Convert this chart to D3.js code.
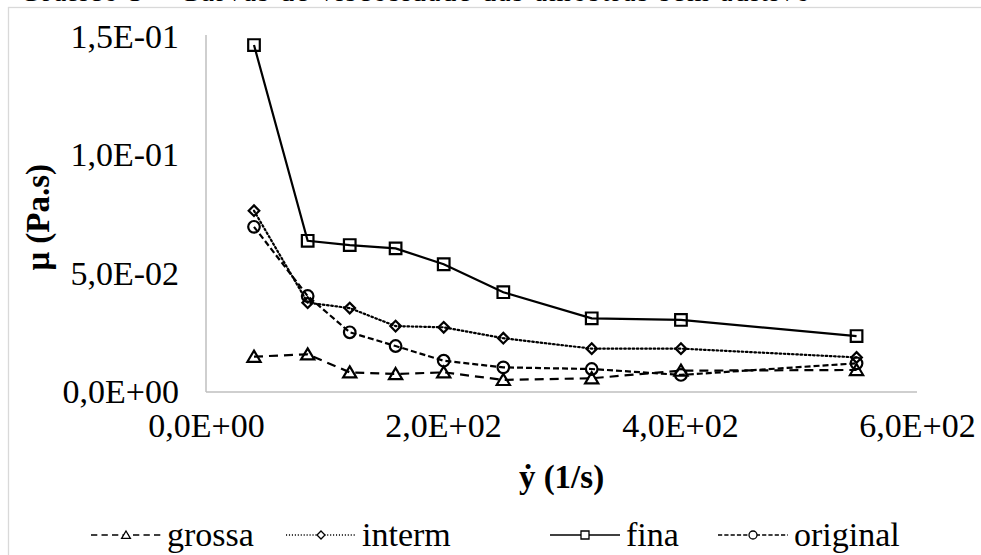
<!DOCTYPE html>
<html>
<head>
<meta charset="utf-8">
<script src="https://cdn.jsdelivr.net/npm/d3@7"></script>
<style>
  html, body { margin: 0; padding: 0; background: #fff; }
  svg { display: block; }
  text { font-family: "Liberation Serif", "Times New Roman", serif; fill: #000; }
</style>
</head>
<body>
<svg id="chart" width="981" height="555"></svg>
<script>
// Shear rate (1/s) for each reading
const shearRate = [40.5, 85.8, 121.3, 160, 200.6, 250.9, 325.5, 400.8, 549];

// Apparent viscosity (Pa.s) per sample
const grossa   = [0.0149, 0.0159, 0.0083, 0.0076, 0.0083, 0.0051, 0.0058, 0.0090, 0.0093];
const interm   = [0.0765, 0.0377, 0.0354, 0.0278, 0.0273, 0.0227, 0.0183, 0.0183, 0.0146];
const fina     = [0.1464, 0.0638, 0.0620, 0.0606, 0.0539, 0.0421, 0.0311, 0.0304, 0.0236];
const original = [0.0697, 0.0405, 0.0252, 0.0194, 0.0132, 0.0104, 0.0097, 0.0072, 0.0121];

const xTicks = [0, 200, 400, 600];
const yTicks = [0, 0.05, 0.10, 0.15];
const seriesNames = ["grossa", "interm", "fina", "original"];

const chartTitle = "Gráfico 3 – Curvas de viscosidade das amostras sem aditivo";
const xTitle = "ẏ (1/s)";
const yTitle = "μ (Pa.s)";

// Excel-style scientific labels with decimal comma: 1,5E-01
function sci(v) {
  if (v === 0) return "0,0E+00";
  const e = Math.floor(Math.log10(Math.abs(v)) + 1e-9);
  const m = v / Math.pow(10, e);
  const sign = e < 0 ? "-" : "+";
  return m.toFixed(1).replace(".", ",") + "E" + sign + String(Math.abs(e)).padStart(2, "0");
}

const series = [
  { name: seriesNames[0], values: grossa,   dash: "9,6",     marker: "triangle" },
  { name: seriesNames[1], values: interm,   dash: "1.6,2.6", marker: "diamond" },
  { name: seriesNames[2], values: fina,     dash: null,      marker: "square" },
  { name: seriesNames[3], values: original, dash: "6,3",     marker: "circle" }
];

const svg = d3.select("#chart");
const FS = 34;

// Chart-area frame
svg.append("rect")
  .attr("x", 8.5).attr("y", 7.5)
  .attr("width", 1000).attr("height", 600)
  .attr("fill", "none").attr("stroke", "#d9d9d9").attr("stroke-width", 1.3);

// Title (sits above the frame, only its lower edge is inside the page)
svg.append("text")
  .attr("x", 20).attr("y", 0.5)
  .attr("font-size", 28).attr("fill", "#444")
  .attr("textLength", 790).attr("lengthAdjust", "spacing")
  .text(chartTitle);

const plot = { left: 206, right: 917, top: 36.5, bottom: 392 };

const x = d3.scaleLinear().domain([0, 600]).range([plot.left, plot.right]);
const y = d3.scaleLinear().domain([0, 0.15]).range([plot.bottom, plot.top]);

// Axis lines (light grey, no tick marks)
svg.append("line")
  .attr("x1", plot.left).attr("x2", plot.left)
  .attr("y1", plot.top - 1.5).attr("y2", plot.bottom)
  .attr("stroke", "#bfbfbf").attr("stroke-width", 1.5);
svg.append("line")
  .attr("x1", plot.left).attr("x2", plot.right)
  .attr("y1", plot.bottom).attr("y2", plot.bottom)
  .attr("stroke", "#bfbfbf").attr("stroke-width", 1.5);

// Y tick labels
const yAxis = d3.axisLeft(y).tickValues(yTicks).tickFormat(sci).tickSize(0).tickPadding(27);
const gy = svg.append("g").attr("transform", `translate(${plot.left},0)`).call(yAxis);
gy.select(".domain").remove();
gy.selectAll("text").attr("font-size", FS).attr("fill", "#000");

// X tick labels
const xAxis = d3.axisBottom(x).tickValues(xTicks).tickFormat(sci).tickSize(0).tickPadding(21);
const gx = svg.append("g").attr("transform", `translate(0,${plot.bottom})`).call(xAxis);
gx.select(".domain").remove();
gx.selectAll("text").attr("font-size", FS).attr("fill", "#000");

// Axis titles
svg.append("text")
  .attr("x", (plot.left + plot.right) / 2).attr("y", 488)
  .attr("text-anchor", "middle")
  .attr("font-size", 33).attr("font-weight", "bold")
  .text(xTitle);
svg.append("text")
  .attr("transform", `translate(49,${(plot.top + plot.bottom) / 2 + 3}) rotate(-90)`)
  .attr("text-anchor", "middle")
  .attr("font-size", 33).attr("font-weight", "bold")
  .text(yTitle);

// Marker shapes
function markerPath(kind, s) {
  switch (kind) {
    case "square":   return `M${-s},${-s}H${s}V${s}H${-s}Z`;
    case "diamond":  return `M0,${-s}L${s},0L0,${s}L${-s},0Z`;
    case "triangle": return `M0,${-s}L${s * 1.1},${s * 0.85}H${-s * 1.1}Z`;
    case "circle":   return d3.arc()({ innerRadius: 0, outerRadius: s, startAngle: 0, endAngle: 2 * Math.PI });
  }
}
const markerSize = { square: 5.8, diamond: 5.3, triangle: 6.0, circle: 5.8 };

const line = d3.line().x((d, i) => x(shearRate[i])).y(d => y(d));

const gSeries = svg.append("g");
series.forEach(s => {
  gSeries.append("path")
    .attr("d", line(s.values))
    .attr("fill", "none").attr("stroke", "#000").attr("stroke-width", 2.2)
    .attr("stroke-dasharray", s.dash)
    .attr("stroke-linecap", s.marker === "diamond" ? "round" : "butt");
  gSeries.selectAll(null).data(s.values).enter().append("path")
    .attr("transform", (d, i) => `translate(${x(shearRate[i])},${y(d)})`)
    .attr("d", markerPath(s.marker, markerSize[s.marker]))
    .attr("fill", "none").attr("stroke", "#000").attr("stroke-width", 2.2);
});

// Legend: one entry per series, sample line + marker + name
const legendY = 535;
const legendX = [91, 286, 550, 718];
const sampleW = 70;
const legend = svg.append("g");
series.forEach((s, i) => {
  const g = legend.append("g").attr("transform", `translate(${legendX[i]},${legendY})`);
  g.append("line").attr("x1", 0).attr("x2", sampleW).attr("y1", 0).attr("y2", 0)
    .attr("stroke", "#000").attr("stroke-width", 1.4)
    .attr("stroke-dasharray", s.dash ? s.dash.split(",").map(v => v * 0.7).join(",") : null);
  g.append("path").attr("transform", `translate(${sampleW / 2},0)`)
    .attr("d", markerPath(s.marker, 4))
    .attr("fill", "#fff").attr("stroke", "#000").attr("stroke-width", 1.3);
  g.append("text").attr("x", sampleW + 6).attr("y", 11)
    .attr("font-size", FS).text(s.name);
});
</script>
</body>
</html>
